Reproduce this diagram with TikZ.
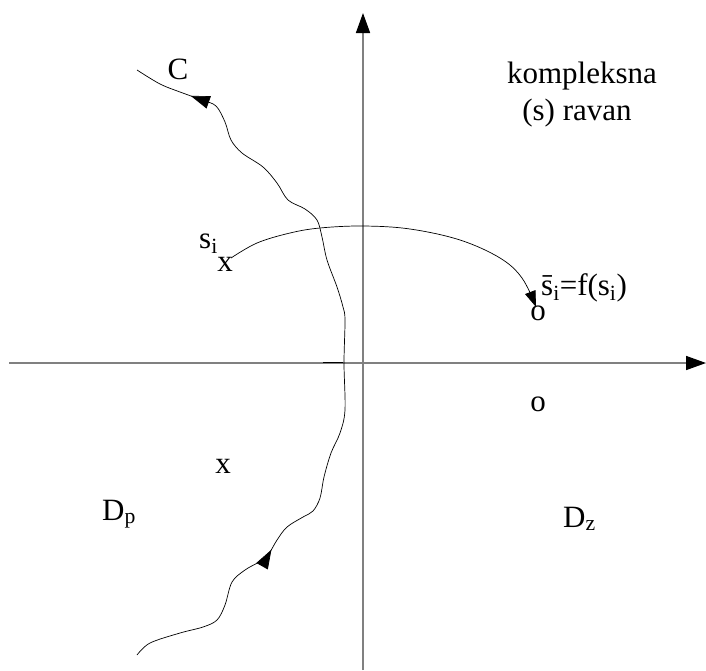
\documentclass[tikz,border=0pt]{standalone}
\usepackage{fontspec}
\setmainfont{Liberation Serif}
\usetikzlibrary{arrows.meta,decorations.markings}
\tikzset{
  axis/.style={draw=black!50, line width=1.6pt},
  axtip/.style={-{Triangle[length=20pt,width=14pt,fill=black,color=black]}},
  curve/.style={draw=black, line width=0.7pt},
  lbl/.style={inner sep=0pt, font=\fontsize{31}{36}\selectfont},
  midarrows/.style={postaction={decorate},
    decoration={markings,
      mark=at position 182pt with {\arrow{Triangle[length=19pt,width=13pt]}},
      mark=at position -60pt with {\arrow{Triangle[length=19pt,width=13pt]}}}}
}
\begin{document}
\begin{tikzpicture}[x=1pt,y=-1pt]
\useasboundingbox (0,0) rectangle (706,670);
% axes
\coordinate (xl) at (9,363);
\coordinate (xr) at (706,363);
\coordinate (yb) at (363,670);
\coordinate (yt) at (363,13);
\draw[axis,axtip] (xl) -- (xr);
\draw[axis,axtip] (yb) -- (yt);
\coordinate (m1) at (323,362.5);
\coordinate (m2) at (343,362.5);
\draw[black, line width=1.2pt] (m1) -- (m2);
% curve C
\coordinate (cs) at (137,655);
\coordinate (ce) at (137,70);
\draw[curve,midarrows] plot[smooth, tension=0.55] coordinates {
 (cs) (150,643) (180,633) (203,627) (217,620) (225,605) (232,582) (245,570)
 (259,562) (268,555) (277,540) (287,527) (303,517) (313,511) (320,498)
 (324,477) (331,453) (340,433) (345,410) (344,363) (345,320) (343,307)
 (337,287) (327,260) (322,237) (317,220) (305,209) (288,200) (277,183)
 (263,167) (242,153) (231,140) (225,122) (216,106) (202,100) (180,92)
 (160,84) (ce)};
% labels
\node[lbl] (C) at (178,69) {C};
\node[lbl, anchor=base] (komp) at (582,83) {kompleksna};
\node[lbl, anchor=base] (ravan) at (577,120) {(s) ravan};
\node[lbl, anchor=base west] (si) at (199,248) {s\textsubscript{i}};
\node[lbl] (xs) at (225,264) {x};
\node[lbl, anchor=base west] (sbar) at (541,295) {\={s}\textsubscript{i}=f(s\textsubscript{i})};
\node[lbl] (o1) at (538,313) {o};
\node[lbl] (o2) at (538,404) {o};
\node[lbl] (x2) at (223,466) {x};
\node[lbl, anchor=base west] (Dp) at (102,520) {D\textsubscript{p}};
\node[lbl, anchor=base west] (Dz) at (563,527) {D\textsubscript{z}};
% mapping arc
\coordinate (as) at (231,258);
\coordinate (ae) at (536,307);
\draw[curve,-{Triangle[length=16pt,width=11pt]}] plot[smooth, tension=0.6] coordinates {
 (as) (257,243) (290,233) (320,228) (363,226) (410,229) (460,240) (500,258) (522,278) (ae)};
\end{tikzpicture}
\end{document}
